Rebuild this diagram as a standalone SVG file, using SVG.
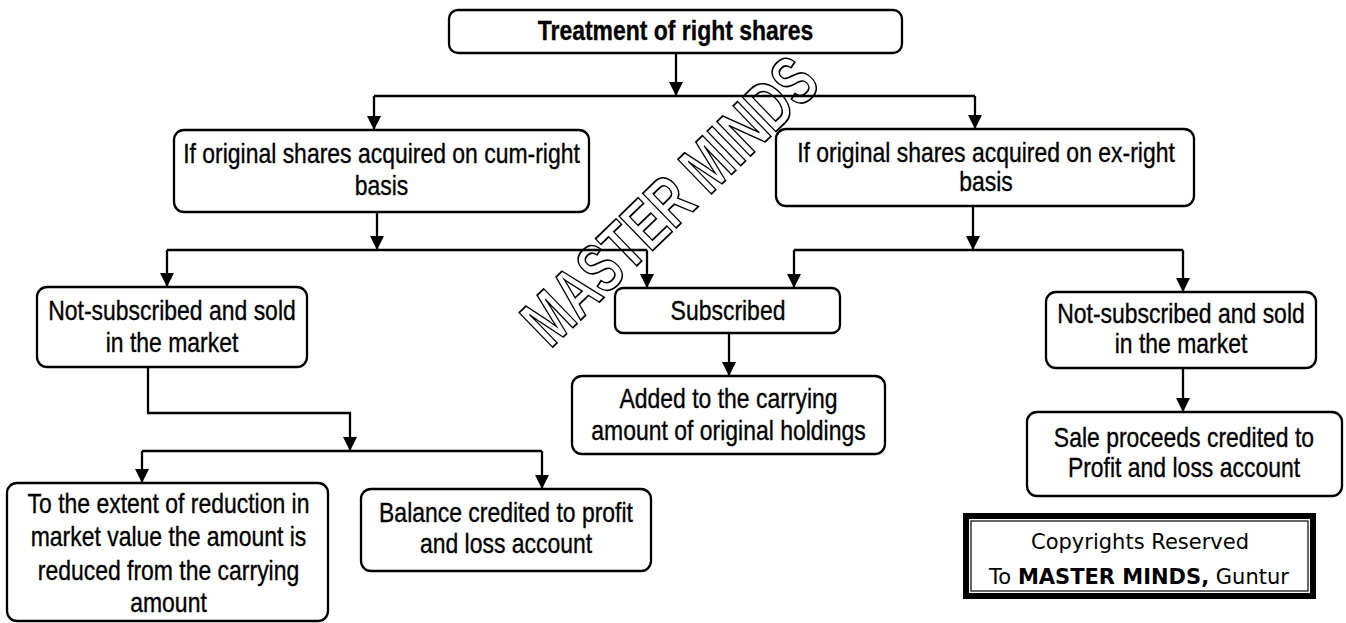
<svg xmlns="http://www.w3.org/2000/svg" width="1346" height="623" viewBox="0 0 1346 623">
  <style>
    .box { fill: #fff; stroke: #000; stroke-width: 2.3; }
    .t { font-family: "Liberation Sans", Arial, sans-serif; font-size: 28px; fill: #000; stroke: #000; stroke-width: 0.35; text-anchor: middle; }
    .b { font-weight: bold; }
    .wire { fill: none; stroke: #000; stroke-width: 2.3; }
    .arr { fill: none; stroke: #000; stroke-width: 2.3; marker-end: url(#head); }
    .cr { font-family: "DejaVu Sans", Verdana, sans-serif; font-size: 21px; fill: #000; text-anchor: middle; }
    .wm { font-family: "Liberation Sans", Arial, sans-serif; font-weight: bold; font-size: 70px; fill: none; stroke: #000; stroke-width: 1.8; text-anchor: middle; }
  </style>
  <defs>
    <marker id="head" markerUnits="userSpaceOnUse" markerWidth="15" markerHeight="15" refX="14" refY="7" orient="auto">
      <path d="M0,0 L14,7 L0,14 z" fill="#000"/>
    </marker>
  </defs>
  <rect width="1346" height="623" fill="#fff"/>

  <!-- connectors -->
  <g id="connectors">
    <path class="arr" d="M676,53 V96"/>
    <path class="wire" d="M374,96 H975"/>
    <path class="arr" d="M374,96 V130"/>
    <path class="arr" d="M975,96 V129"/>

    <path class="arr" d="M377,212 V250"/>
    <path class="wire" d="M167,250 H647"/>
    <path class="arr" d="M167,250 V287"/>
    <path class="arr" d="M647,250 V288"/>

    <path class="arr" d="M973,206 V250"/>
    <path class="wire" d="M794,250 H1183"/>
    <path class="arr" d="M794,250 V288"/>
    <path class="arr" d="M1183,250 V292"/>

    <path class="arr" d="M729,333 V376"/>
    <path class="arr" d="M1183,368 V412"/>

    <path class="arr" d="M148,367 V413 H350 V451"/>
    <path class="wire" d="M142,451 H542"/>
    <path class="arr" d="M142,451 V483"/>
    <path class="arr" d="M542,451 V489"/>
  </g>

  <g id="root">
    <rect class="box" x="449" y="10" width="453" height="43" rx="9"/>
    <text class="t b" transform="translate(675.5 0) scale(.82 1)" x="0" y="40.5">Treatment of right shares</text>
  </g>

  <g id="cum-right">
    <rect class="box" x="174" y="130" width="415" height="82" rx="10"/>
    <text class="t" transform="translate(381.5 0) scale(.82 1)"><tspan x="0" y="163">If original shares acquired on cum-right</tspan><tspan x="0" y="195">basis</tspan></text>
  </g>

  <g id="ex-right">
    <rect class="box" x="776" y="129" width="418" height="77" rx="10"/>
    <text class="t" transform="translate(986 0) scale(.82 1)"><tspan x="0" y="162">If original shares acquired on ex-right</tspan><tspan x="0" y="191">basis</tspan></text>
  </g>

  <g id="cum-not-subscribed">
    <rect class="box" x="37" y="287" width="270" height="80" rx="10"/>
    <text class="t" transform="translate(172 0) scale(.82 1)"><tspan x="0" y="320">Not-subscribed and sold</tspan><tspan x="0" y="352">in the market</tspan></text>
  </g>

  <g id="subscribed">
    <rect class="box" x="615" y="288" width="225" height="45" rx="8"/>
    <text class="t" transform="translate(728 0) scale(.82 1)" x="0" y="320">Subscribed</text>
  </g>

  <g id="ex-not-subscribed">
    <rect class="box" x="1046" y="292" width="270" height="76" rx="10"/>
    <text class="t" transform="translate(1181 0) scale(.82 1)"><tspan x="0" y="323">Not-subscribed and sold</tspan><tspan x="0" y="353">in the market</tspan></text>
  </g>

  <g id="added">
    <rect class="box" x="572" y="376" width="313" height="78" rx="10"/>
    <text class="t" transform="translate(728.5 0) scale(.82 1)"><tspan x="0" y="408">Added to the carrying</tspan><tspan x="0" y="440">amount of original holdings</tspan></text>
  </g>

  <g id="sale-proceeds">
    <rect class="box" x="1027" y="412" width="315" height="84" rx="10"/>
    <text class="t" transform="translate(1184 0) scale(.82 1)"><tspan x="0" y="447">Sale proceeds credited to</tspan><tspan x="0" y="477">Profit and loss account</tspan></text>
  </g>

  <g id="reduction">
    <rect class="box" x="7" y="483" width="321" height="138" rx="10"/>
    <text class="t" transform="translate(168.5 0) scale(.82 1)"><tspan x="0" y="513">To the extent of reduction in</tspan><tspan x="0" y="546">market value the amount is</tspan><tspan x="0" y="580">reduced from the carrying</tspan><tspan x="0" y="612">amount</tspan></text>
  </g>

  <g id="balance">
    <rect class="box" x="361" y="489" width="290" height="82" rx="10"/>
    <text class="t" transform="translate(506 0) scale(.82 1)"><tspan x="0" y="522">Balance credited to profit</tspan><tspan x="0" y="553">and loss account</tspan></text>
  </g>

  <!-- copyright plate -->
  <g id="copyright">
    <rect x="966" y="516" width="347" height="80" fill="none" stroke="#000" stroke-width="6"/>
    <rect x="971" y="521" width="337" height="70" fill="#fff" stroke="#000" stroke-width="1.2"/>
    <text class="cr" x="1140" y="549">Copyrights Reserved</text>
    <text class="cr" x="1139" y="584">To <tspan font-weight="bold">MASTER MINDS,</tspan> Guntur</text>
  </g>

  <!-- outlined watermark -->
  <text class="wm" transform="translate(669 200) rotate(-44) scale(.7 1)" x="0" y="25">MASTER MINDS</text>
</svg>
